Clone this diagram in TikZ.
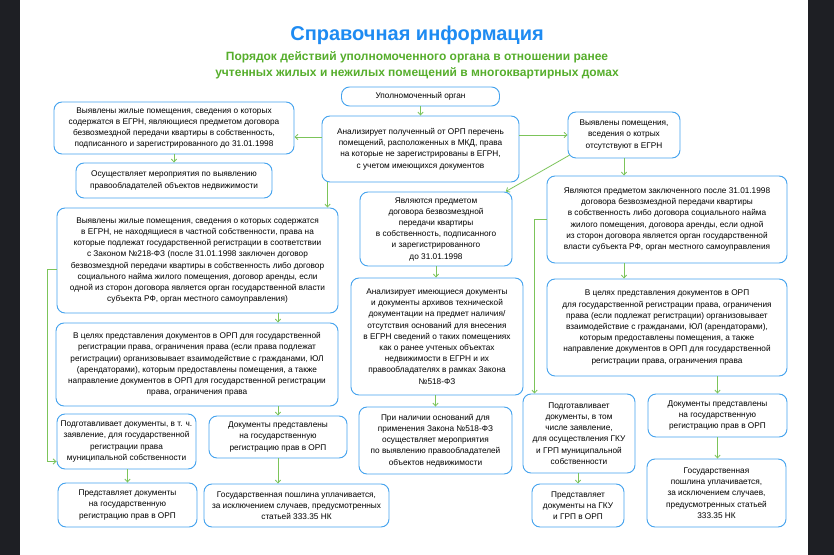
\documentclass[tikz,border=0pt]{standalone}
\usepackage{fontspec}
\setmainfont{Liberation Sans}
\usetikzlibrary{arrows.meta,calc}

\definecolor{boxblue}{HTML}{45A3EE}
\definecolor{flowgreen}{HTML}{7CC45A}
\definecolor{titleblue}{HTML}{1E8BF2}
\definecolor{subgreen}{HTML}{56AE2C}
\definecolor{sidedark}{HTML}{1E1F24}

\newcommand{\boxfont}{\fontsize{6.2}{8.4}\selectfont}

\tikzset{
  box/.style={draw=boxblue, line width=0.7pt, rounded corners=6pt, fill=white,
    align=center, inner sep=0pt, font=\boxfont},
  flow/.style={draw=flowgreen, line width=0.6pt,
    -{Straight Barb[length=2.2pt,width=4pt]}},
}

\begin{document}
\begin{tikzpicture}[x=0.75pt, y=-0.75pt]
    % Parameters
    \def\px{0.75pt}

    % Frame
    \fill[white] (0,0) rectangle (834,555);
    \fill[sidedark] (0,0) rectangle (20,555);
    \fill[sidedark] (808,0) rectangle (834,555);
    \useasboundingbox (0,0) rectangle (834,555);

    % Heading
    \node[text=titleblue, font=\fontsize{15}{18}\selectfont\bfseries] (title) at (417,35)
      {Справочная информация};
    \node[text=subgreen, align=center, font=\fontsize{9}{12}\selectfont\bfseries] (subtitle) at (417,65)
      {Порядок действий уполномоченного органа в отношении ранее\\
       учтенных жилых и нежилых помещений в многоквартирных домах};

    % Top row
    \node[box, minimum width=158*\px, minimum height=19*\px] (organ) at (420.5,96.5)
      {Уполномоченный орган};
    \node[box, minimum width=197*\px, minimum height=66*\px] (analyze) at (420.5,149)
      {Анализирует полученный от ОРП перечень\\помещений, расположенных в МКД, права\\на которые не зарегистрированы в ЕГРН,\\с учетом имеющихся документов};
    \node[box, minimum width=240*\px, minimum height=52*\px] (found) at (174,128)
      {Выявлены жилые помещения, сведения о которых\\содержатся в ЕГРН, являющиеся предметом договора\\безвозмездной передачи квартиры в собственность,\\подписанного и зарегистрированного до 31.01.1998};
    \node[box, minimum width=196*\px, minimum height=35*\px] (measures) at (174,180.5)
      {Осуществляет мероприятия по выявлению\\правообладателей объектов недвижимости};
    \node[box, minimum width=112*\px, minimum height=46*\px] (absent) at (624,135)
      {Выявлены помещения,\\вседения о котрых\\отсутствуют в ЕГРН};

    % Left column
    \node[box, minimum width=281*\px, minimum height=105*\px] (bigleft) at (197.5,260.5)
      {Выявлены жилые помещения, сведения о которых содержатся\\в ЕГРН, не находящиеся в частной собственности, права на\\которые подлежат государственной регистрации в соответствии\\с Законом №218-ФЗ (после 31.01.1998 заключен договор\\безвозмездной передачи квартиры в собственность либо договор\\социального найма жилого помещения, договор аренды, если\\одной из сторон договора является орган государственной власти\\субъекта РФ, орган местного самоуправления)};
    \node[box, minimum width=282*\px, minimum height=83*\px] (linteract) at (197,364.5)
      {В целях представления документов в ОРП для государственной\\регистрации права, ограничения права (если права подлежат\\регистрации) организовывает взаимодействие с гражданами, ЮЛ\\(арендаторами), которым предоставлены помещения, а также\\направление документов в ОРП для государственной регистрации\\права, ограничения права};
    \node[box, minimum width=139*\px, minimum height=55*\px] (lprep) at (126.5,441.5)
      {Подготавливает документы, в т. ч.\\заявление, для государственной\\регистрации права\\муниципальной собственности};
    \node[box, minimum width=139*\px, minimum height=44*\px] (lpresent) at (127.5,505)
      {Представляет документы\\на государственную\\регистрацию прав в ОРП};
    \node[box, minimum width=138*\px, minimum height=42*\px] (lsubmit) at (278,437)
      {Документы представлены\\на государственную\\регистрацию прав в ОРП};
    \node[box, minimum width=185*\px, minimum height=43*\px] (lduty) at (296.5,505.5)
      {Государственная пошлина уплачивается,\\за исключением случаев, предусмотренных\\статьей 333.35 НК};

    % Middle column
    \node[box, minimum width=152*\px, minimum height=74*\px] (subject) at (436,229)
      {Являются предметом\\договора безвозмездной\\передачи квартиры\\в собственность, подписанного\\и зарегистрированного\\до 31.01.1998};
    \node[box, minimum width=172*\px, minimum height=117*\px] (manalyze) at (437,336.5)
      {Анализирует имеющиеся документы\\и документы архивов технической\\документации на предмет наличия/\\отсутствия оснований для внесения\\в ЕГРН сведений о таких помещениях\\как о ранее учтеных объектах\\недвижимости в ЕГРН и их\\правообладателях в рамках Закона\\№518-ФЗ};
    \node[box, minimum width=153*\px, minimum height=67*\px] (mwhen) at (435.5,440.5)
      {При наличии оснований для\\применения Закона №518-ФЗ\\осуществляет мероприятия\\по выявлению правообладателей\\объектов недвижимости};

    % Right column
    \node[box, minimum width=240*\px, minimum height=87*\px] (after) at (667,219.5)
      {Являются предметом заключенного после 31.01.1998\\договора безвозмездной передачи квартиры\\в собственность либо договора социального найма\\жилого помещения, договора аренды, если одной\\из сторон договора является орган государственной\\власти субъекта РФ, орган местного самоуправления};
    \node[box, minimum width=240*\px, minimum height=97*\px] (rinteract) at (667,327.5)
      {В целях представления документов в ОРП\\для государственной регистрации права, ограничения\\права (если подлежат регистрации) организовывает\\взаимодействие с гражданами, ЮЛ (арендаторами),\\которым предоставлены помещения, а также\\направление документов в ОРП для государственной\\регистрации права, ограничения права};
    \node[box, minimum width=112*\px, minimum height=79*\px] (rprep) at (579,433.5)
      {Подготавливает\\документы, в том\\числе заявление,\\для осуществления ГКУ\\и ГРП муниципальной\\собственности};
    \node[box, minimum width=92*\px, minimum height=43*\px] (rpresent) at (578,505.5)
      {Представляет\\документы на ГКУ\\и ГРП в ОРП};
    \node[box, minimum width=139*\px, minimum height=43*\px] (rsubmit) at (717.5,415.5)
      {Документы представлены\\на государственную\\регистрацию прав в ОРП};
    \node[box, minimum width=139*\px, minimum height=68*\px] (rduty) at (716.5,493)
      {Государственная\\пошлина уплачивается,\\за исключением случаев,\\предусмотренных статьей\\333.35 НК};

    % Connectors
    \coordinate (lrail) at (47,0);
    \draw[flow] (organ) -- (analyze);
    \draw[flow] ([yshift=9pt]analyze.west) -- ([yshift=9pt]analyze.west -| found.east);
    \draw[flow] (analyze.east |- absent.west) -- (absent.west);
    \draw[flow] (found) -- (measures);
    \draw[flow] ([xshift=4.5pt]analyze.south west) -- ([xshift=4.5pt]analyze.south west |- bigleft.north);
    \draw[flow] ([xshift=1.5pt,yshift=2.5pt]absent.south west) -- ([xshift=-5pt]subject.north east);
    \draw[flow] (absent.south) -- (absent.south |- after.north);
    \draw[flow] (absent.south |- after.south) -- (absent.south |- rinteract.north);
    \draw[flow] (rsubmit.north |- rinteract.south) -- (rsubmit.north);
    \draw[flow] (rsubmit.south) -- (rsubmit.south |- rduty.north);
    \draw[flow] (rpresent.north |- rprep.south) -- (rpresent.north);
    \draw[flow] (after.west) -| ([xshift=9pt]rprep.north west);
    \draw[flow] (subject.south) -- (subject.south |- manalyze.north);
    \draw[flow] (mwhen.north |- manalyze.south) -- (mwhen.north);
    \draw[flow] (lsubmit.north |- bigleft.south) -- (lsubmit.north |- linteract.north);
    \draw[flow] (lsubmit.north |- linteract.south) -- (lsubmit.north);
    \draw[flow] (lsubmit.south) -- (lsubmit.south |- lduty.north);
    \draw[flow] (lpresent.north |- lprep.south) -- (lpresent.north);
    \draw[flow] ([yshift=-7pt]bigleft.west) -- ([yshift=-7pt]bigleft.west -| lrail)
      -- ([yshift=-15pt]lprep.west -| lrail) -- ([yshift=-15pt]lprep.west);
  \end{tikzpicture}
\end{document}
